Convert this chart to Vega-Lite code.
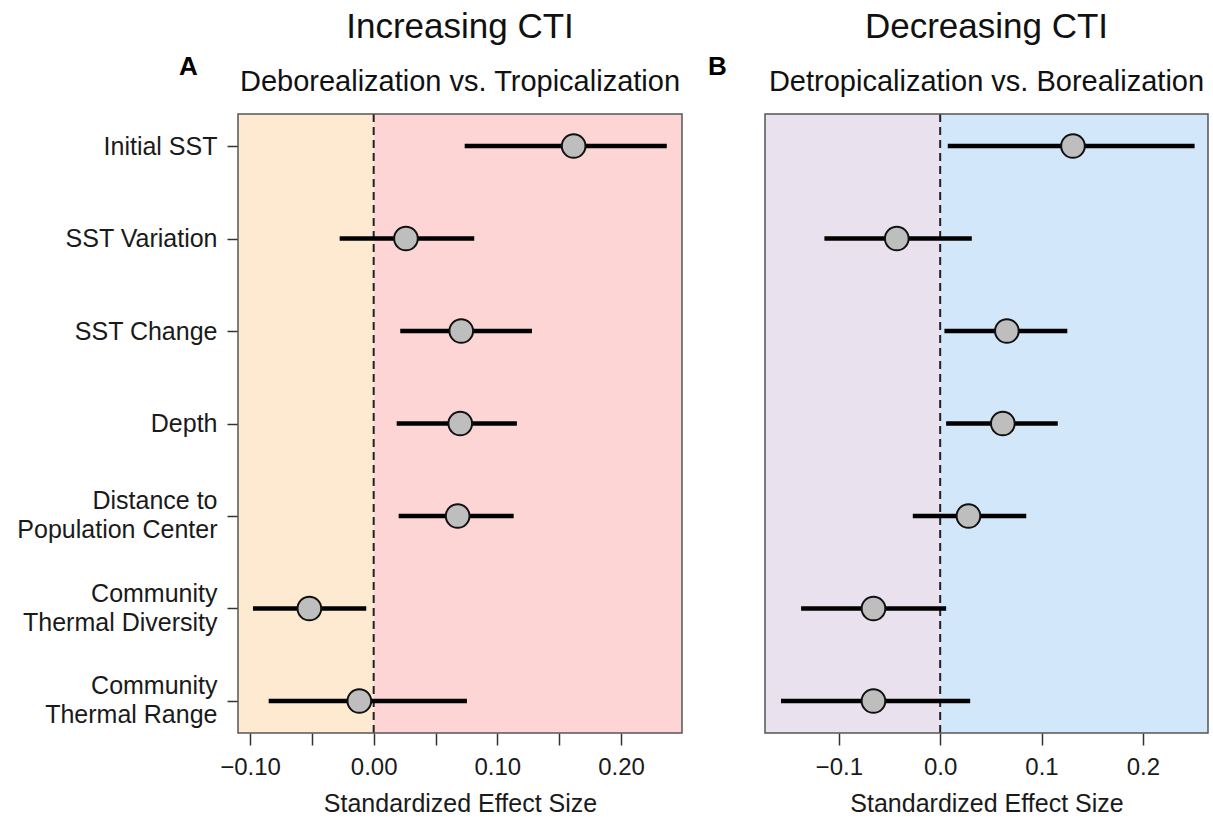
{
  "$schema": "https://vega.github.io/schema/vega-lite/v6.json",
  "background": "white",
  "padding": {"left": 16, "top": 10, "right": 5, "bottom": 5},
  "config": {
    "font": "Liberation Sans",
    "view": {"stroke": null},
    "axis": {"labelFont": "Liberation Sans", "titleFont": "Liberation Sans", "labelColor": "#1a1a1a", "titleColor": "#1a1a1a", "grid": false, "domain": false, "tickColor": "#333", "tickWidth": 1.5, "titleFontWeight": "normal"},
    "title": {"font": "Liberation Sans", "fontSize": 35, "fontWeight": "normal", "color": "#111", "subtitleFont": "Liberation Sans", "subtitleFontSize": 29, "subtitleColor": "#111", "anchor": "middle", "frame": "group", "subtitlePadding": 23, "offset": -44}
  },
  "datasets": {
    "effects": [
      {"panel": "A", "variable": "Initial SST", "lo": 0.0736, "est": 0.1617, "hi": 0.237},
      {"panel": "A", "variable": "SST Variation", "lo": -0.0275, "est": 0.0261, "hi": 0.0813},
      {"panel": "A", "variable": "SST Change", "lo": 0.0215, "est": 0.0708, "hi": 0.128},
      {"panel": "A", "variable": "Depth", "lo": 0.0186, "est": 0.070, "hi": 0.1158},
      {"panel": "A", "variable": "Distance to Population Center", "lo": 0.0202, "est": 0.0679, "hi": 0.1132},
      {"panel": "A", "variable": "Community Thermal Diversity", "lo": -0.0976, "est": -0.052, "hi": -0.006},
      {"panel": "A", "variable": "Community Thermal Range", "lo": -0.0849, "est": -0.0116, "hi": 0.0754},
      {"panel": "B", "variable": "Initial SST", "lo": 0.0075, "est": 0.131, "hi": 0.251},
      {"panel": "B", "variable": "SST Variation", "lo": -0.1142, "est": -0.0428, "hi": 0.0312},
      {"panel": "B", "variable": "SST Change", "lo": 0.0042, "est": 0.0658, "hi": 0.1254},
      {"panel": "B", "variable": "Depth", "lo": 0.0059, "est": 0.0618, "hi": 0.116},
      {"panel": "B", "variable": "Distance to Population Center", "lo": -0.027, "est": 0.0279, "hi": 0.0849},
      {"panel": "B", "variable": "Community Thermal Diversity", "lo": -0.1372, "est": -0.0658, "hi": 0.0059},
      {"panel": "B", "variable": "Community Thermal Range", "lo": -0.157, "est": -0.0658, "hi": 0.0296}
    ],
    "bands": [
      {"panel": "A", "side": "A below", "start": -0.1097, "end": 0},
      {"panel": "A", "side": "A above", "start": 0, "end": 0.2493},
      {"panel": "A", "side": "frame", "start": -0.1097, "end": 0.2493},
      {"panel": "B", "side": "B below", "start": -0.1728, "end": 0},
      {"panel": "B", "side": "B above", "start": 0, "end": 0.2642},
      {"panel": "B", "side": "frame", "start": -0.1728, "end": 0.2642}
    ]
  },
  "spacing": 24,
  "resolve": {"scale": {"x": "independent", "y": "independent", "color": "independent"}},
  "hconcat": [
    {
      "title": {"text": "Increasing CTI", "subtitle": "Deborealization vs. Tropicalization"},
      "width": 444,
      "height": 619,
      "layer": [
        {
          "data": {"name": "bands"},
          "transform": [{"filter": "datum.panel == 'A' && datum.side != 'frame'"}],
          "mark": {"type": "rect"},
          "encoding": {
            "x": {"field": "start", "type": "quantitative", "scale": {"domain": [-0.1097, 0.2493], "nice": false, "zero": false},
              "axis": {"title": "Standardized Effect Size", "values": [-0.1, -0.05, 0, 0.05, 0.1, 0.15, 0.2], "format": ".2f", "labelExpr": "round(datum.value*100) % 10 == 0 ? datum.label : ''", "labelFontSize": 24, "titleFontSize": 25, "tickSize": 12, "labelPadding": 10, "titlePadding": 12}},
            "x2": {"field": "end"},
            "color": {"field": "side", "type": "nominal", "scale": {"domain": ["A below", "A above", "B below", "B above"], "range": ["#FDEAD0", "#FED5D5", "#E9E1EE", "#D3E7FB"]}, "legend": null}
          }
        },
        {
          "data": {"name": "bands"},
          "transform": [{"filter": "datum.panel == 'A' && datum.side == 'A below'"}],
          "mark": {"type": "rule", "strokeDash": [8, 5], "strokeWidth": 2, "color": "#222"},
          "encoding": {"x": {"field": "end", "type": "quantitative"}}
        },
        {
          "data": {"name": "effects"},
          "transform": [{"filter": "datum.panel == 'A'"}],
          "mark": {"type": "rule", "strokeWidth": 4.5, "color": "#000", "strokeCap": "butt"},
          "encoding": {
            "x": {"field": "lo", "type": "quantitative"},
            "x2": {"field": "hi"},
            "y": {"field": "variable", "type": "nominal", "sort": ["Initial SST", "SST Variation", "SST Change", "Depth", "Distance to Population Center", "Community Thermal Diversity", "Community Thermal Range"], "scale": {"type": "point", "padding": 0.346},
              "axis": {"title": "A", "titleAngle": 0, "titleX": -50, "titleY": -40, "titleAlign": "center", "titleBaseline": "alphabetic", "titleFontSize": 26, "titleFontWeight": "bold", "titleColor": "#000", "labelFontSize": 25, "labelLineHeight": 29, "labelLimit": 400, "tickSize": 11, "labelPadding": 10,
                "labelBaseline": {"condition": {"test": "datum.value == 'Distance to Population Center' || indexof(datum.value, 'Community') == 0", "value": "line-bottom"}, "value": "middle"},
                "labelExpr": "datum.label == 'Distance to Population Center' ? ['Distance to', 'Population Center'] : datum.label == 'Community Thermal Diversity' ? ['Community', 'Thermal Diversity'] : datum.label == 'Community Thermal Range' ? ['Community', 'Thermal Range'] : datum.label"}}
          }
        },
        {
          "data": {"name": "effects"},
          "transform": [{"filter": "datum.panel == 'A'"}],
          "mark": {"type": "circle", "size": 560, "fill": "#BEBEBE", "stroke": "#111", "strokeWidth": 2, "opacity": 1},
          "encoding": {
            "x": {"field": "est", "type": "quantitative"},
            "y": {"field": "variable", "type": "nominal", "sort": ["Initial SST", "SST Variation", "SST Change", "Depth", "Distance to Population Center", "Community Thermal Diversity", "Community Thermal Range"]}
          }
        },
        {
          "data": {"name": "bands"},
          "transform": [{"filter": "datum.panel == 'A' && datum.side == 'frame'"}],
          "mark": {"type": "rect", "fill": null, "fillOpacity": 0, "stroke": "#555", "strokeWidth": 1.5},
          "encoding": {"x": {"field": "start", "type": "quantitative"}, "x2": {"field": "end"}}
        }
      ]
    },
    {
      "title": {"text": "Decreasing CTI", "subtitle": "Detropicalization vs. Borealization"},
      "width": 443,
      "height": 619,
      "layer": [
        {
          "data": {"name": "bands"},
          "transform": [{"filter": "datum.panel == 'B' && datum.side != 'frame'"}],
          "mark": {"type": "rect"},
          "encoding": {
            "x": {"field": "start", "type": "quantitative", "scale": {"domain": [-0.1728, 0.2642], "nice": false, "zero": false},
              "axis": {"title": "Standardized Effect Size", "values": [-0.1, 0, 0.1, 0.2], "format": ".1f", "labelFontSize": 24, "titleFontSize": 25, "tickSize": 12, "labelPadding": 10, "titlePadding": 12}},
            "x2": {"field": "end"},
            "color": {"field": "side", "type": "nominal", "scale": {"domain": ["A below", "A above", "B below", "B above"], "range": ["#FDEAD0", "#FED5D5", "#E9E1EE", "#D3E7FB"]}, "legend": null}
          }
        },
        {
          "data": {"name": "bands"},
          "transform": [{"filter": "datum.panel == 'B' && datum.side == 'B below'"}],
          "mark": {"type": "rule", "strokeDash": [8, 5], "strokeWidth": 2, "color": "#222"},
          "encoding": {"x": {"field": "end", "type": "quantitative"}}
        },
        {
          "data": {"name": "effects"},
          "transform": [{"filter": "datum.panel == 'B'"}],
          "mark": {"type": "rule", "strokeWidth": 4.5, "color": "#000", "strokeCap": "butt"},
          "encoding": {
            "x": {"field": "lo", "type": "quantitative"},
            "x2": {"field": "hi"},
            "y": {"field": "variable", "type": "nominal", "sort": ["Initial SST", "SST Variation", "SST Change", "Depth", "Distance to Population Center", "Community Thermal Diversity", "Community Thermal Range"], "scale": {"type": "point", "padding": 0.346},
              "axis": {"title": "B", "titleAngle": 0, "titleX": -48, "titleY": -40, "titleAlign": "center", "titleBaseline": "alphabetic", "titleFontSize": 26, "titleFontWeight": "bold", "titleColor": "#000", "labels": false, "ticks": false, "domain": false}}
          }
        },
        {
          "data": {"name": "effects"},
          "transform": [{"filter": "datum.panel == 'B'"}],
          "mark": {"type": "circle", "size": 560, "fill": "#BEBEBE", "stroke": "#111", "strokeWidth": 2, "opacity": 1},
          "encoding": {
            "x": {"field": "est", "type": "quantitative"},
            "y": {"field": "variable", "type": "nominal", "sort": ["Initial SST", "SST Variation", "SST Change", "Depth", "Distance to Population Center", "Community Thermal Diversity", "Community Thermal Range"]}
          }
        },
        {
          "data": {"name": "bands"},
          "transform": [{"filter": "datum.panel == 'B' && datum.side == 'frame'"}],
          "mark": {"type": "rect", "fill": null, "fillOpacity": 0, "stroke": "#555", "strokeWidth": 1.5},
          "encoding": {"x": {"field": "start", "type": "quantitative"}, "x2": {"field": "end"}}
        }
      ]
    }
  ]
}
